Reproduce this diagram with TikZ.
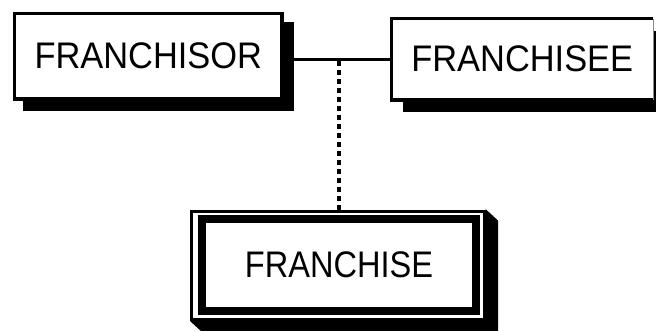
\documentclass[tikz,border=0pt]{standalone}
\usepackage{fontspec}
\setmainfont{Liberation Sans}
\usetikzlibrary{backgrounds}
% horizontally condensed label
\newcommand\squeezed[2]{\scalebox{#1}[1]{#2}}
\begin{document}
\begin{tikzpicture}[x=1pt,y=-1pt,
  label text/.style={font=\fontsize{37}{40}\selectfont},
  entity/.style={draw=black, line width=3.5pt, fill=white, inner sep=0pt,
    line join=miter, label text},
  weakouter/.style={draw=black, line width=3pt, fill=white, inner sep=0pt},
  weakinner/.style={draw=black, line width=8pt, fill=white, inner sep=0pt,
    line join=miter, label text},
  shadowfill/.style={fill=black},
  link/.style={draw=black, line width=3.5pt},
  dotlink/.style={draw=black, line width=4.5pt, dash pattern=on 4.5pt off 4.5pt}]
\useasboundingbox (0,0) rectangle (656,330);

% strong entities
\node[entity, minimum width=267.5pt, minimum height=85.5pt]
  (fr) at (148.25,56.25) {\squeezed{0.93}{FRANCHISOR}};
\node[entity, draw=none, outer sep=0pt, minimum width=261.5pt, minimum height=81.5pt]
  (fe) at (522.25,59.25) {\squeezed{0.93}{FRANCHISEE}};
\draw[line width=3.5pt, line join=miter]
  (fe.north east) -- (fe.north west) -- (fe.south west) -- (fe.south east);
\draw[black!45, line width=0.7pt] (fe.north east) -- (fe.south east);

% weak entity: double frame
\node[weakouter, minimum width=293pt, minimum height=108.5pt]
  (fs) at (338,265.25) {};
\node[weakinner, minimum width=274pt, minimum height=92pt]
  (fsin) at (339,265) {\squeezed{0.88}{FRANCHISE}};

% relationship and dependency lines
\draw[link] (fr.east |- fe.west) -- (fe.west);
\coordinate (tap) at (339,59.25);
\draw[dotlink] ([yshift=-2pt]tap) -- (tap |- fs.north);

% drop shadows
\begin{scope}[on background layer]
  \fill[shadowfill] ([shift={(10pt,-10pt)}]fr.north west)
    rectangle ([shift={(10pt,-10pt)}]fr.south east);
  \fill[shadowfill] ([shift={(11pt,-12pt)}]fe.north west)
    rectangle ([shift={(20pt,-12pt)}]fe.south east);
  \fill[shadowfill] (fs.north east) -- ([shift={(12pt,-11pt)}]fs.north east)
    -- ([shift={(12pt,-11pt)}]fs.south east)
    -- ([shift={(12pt,-11pt)}]fs.south west)
    -- (fs.south west) -- cycle;
\end{scope}
\end{tikzpicture}
\end{document}
